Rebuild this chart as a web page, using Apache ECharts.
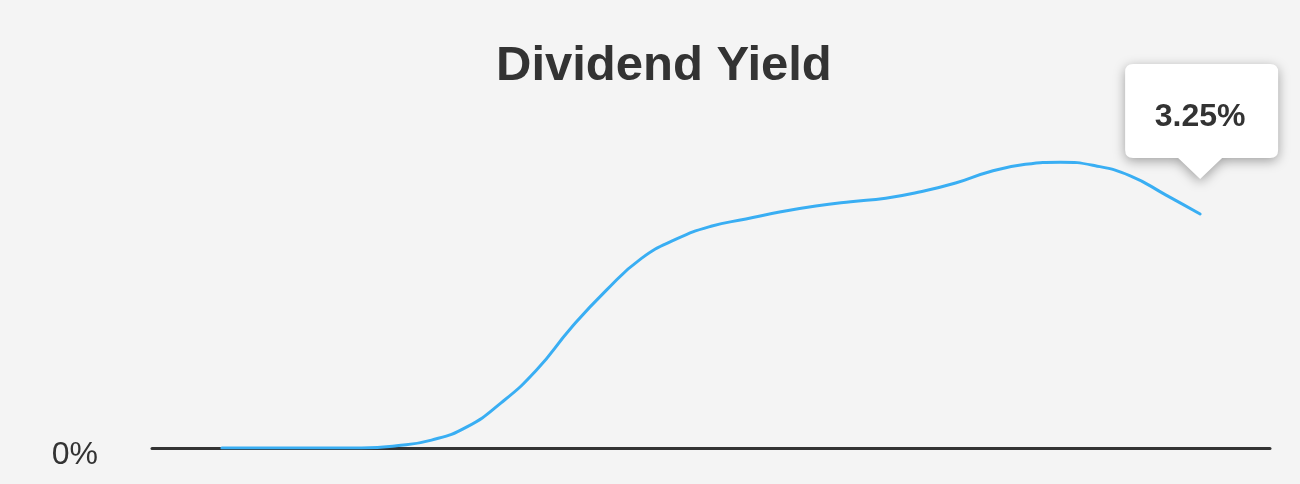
<!DOCTYPE html>
<html>
<head>
<meta charset="utf-8">
<style>
  html, body { margin: 0; padding: 0; background: #f4f4f4; }
  #chart { width: 1300px; height: 484px; }
</style>
<script src="https://cdn.jsdelivr.net/npm/echarts@6/dist/echarts.min.js"></script>
</head>
<body>
<div id="chart"></div>
<script>
var titleText = "Dividend Yield";
// one point per period
var periods = [0, 1, 2, 3, 4, 5, 6, 7, 8, 9, 10, 11, 12, 13, 14, 15, 16, 17, 18, 19, 20, 21, 22, 23, 24, 25, 26, 27, 28];
var yieldValues = [0, 0, 0, 0, 0, 0.03, 0.11, 0.29, 0.63, 1.08, 1.67, 2.19, 2.63, 2.90, 3.08, 3.18, 3.28, 3.36, 3.42, 3.47, 3.56, 3.68, 3.84, 3.94, 3.97, 3.92, 3.78, 3.52, 3.25];
var yTicks = [0];

var chart = echarts.init(document.getElementById("chart"));

var lineData = periods.map(function (p, i) { return [p, yieldValues[i]]; });
var last = lineData[lineData.length - 1];

// rounded callout box with a pointer at the bottom
var calloutPath = "path://M8,0 L145,0 Q153,0 153,8 L153,86 Q153,94 145,94 L97,94 L75,115 L53,94 L8,94 Q0,94 0,86 L0,8 Q0,0 8,0 Z";

var option = {
  backgroundColor: "#f4f4f4",
  animation: false,
  title: {
    text: titleText,
    left: 491,
    top: 37,
    textStyle: {
      fontFamily: "Liberation Sans, Arial, sans-serif",
      fontSize: 49,
      fontWeight: "bold",
      color: "#333"
    }
  },
  grid: {
    left: 152,
    right: 30,
    top: 88,
    bottom: 36
  },
  xAxis: {
    type: "value",
    min: -2,
    max: 30,
    axisLine: { show: true, lineStyle: { color: "#333", width: 3 } },
    axisTick: { show: false },
    axisLabel: { show: false },
    splitLine: { show: false }
  },
  yAxis: {
    type: "value",
    min: 0,
    max: 5,
    interval: 5,
    axisLine: { show: false },
    axisTick: { show: false },
    splitLine: { show: false },
    axisLabel: {
      margin: 54,
      verticalAlign: "top",
      lineHeight: 15,
      fontFamily: "Liberation Sans, Arial, sans-serif",
      fontSize: 32,
      color: "#333",
      formatter: function (v) {
        return yTicks.indexOf(v) >= 0 ? v + "%" : "";
      }
    }
  },
  series: [
    {
      type: "line",
      data: lineData,
      smooth: true,
      showSymbol: false,
      lineStyle: { color: "#39aef3", width: 3, cap: "round" },
      markPoint: {
        symbol: calloutPath,
        symbolSize: [153, 115],
        symbolOffset: [1.5, -92.5],
        symbolKeepAspect: false,
        itemStyle: {
          color: "#fff",
          shadowBlur: 12,
          shadowColor: "rgba(0,0,0,0.35)",
          shadowOffsetY: 3
        },
        label: {
          show: true,
          position: "inside",
          offset: [-1.5, -4],
          fontFamily: "Liberation Sans, Arial, sans-serif",
          fontSize: 32,
          fontWeight: "bold",
          color: "#333",
          formatter: function (p) { return p.value.toFixed(2) + "%"; }
        },
        data: [{ coord: last, value: last[1] }]
      }
    }
  ]
};

chart.setOption(option);
</script>
</body>
</html>
